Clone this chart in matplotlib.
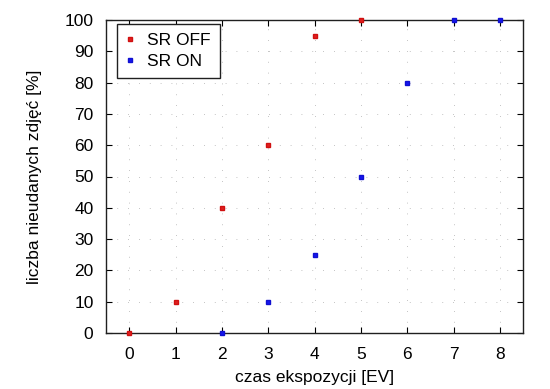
import matplotlib
matplotlib.use("Agg")
import matplotlib.pyplot as plt

plt.rcParams['font.family'] = ['Liberation Sans', 'DejaVu Sans']

off_x = [0, 1, 2, 3, 4, 5]
off_y = [0, 10, 40, 60, 95, 100]
on_x = [2, 3, 4, 5, 6, 7, 8]
on_y = [0, 10, 25, 50, 80, 100, 100]
xticks = list(range(0, 9))
yticks = list(range(0, 101, 10))

fig = plt.figure(figsize=(5.5, 3.89), dpi=100)
ax = fig.add_axes([106/550, 1-333/389, (523-106)/550, (333-20)/389])

ax.plot(off_x, off_y, 's', ms=3.5, mec='#d01010', mfc='#e02020', clip_on=False, zorder=3, label='SR OFF')
ax.plot(on_x, on_y, 's', ms=3.5, mec='#1010d0', mfc='#1515f0', clip_on=False, zorder=4, label='SR ON')

ax.set_xlim(-0.5, 8.5)
ax.set_ylim(0, 100)
ax.set_xticks(xticks)
ax.set_yticks(yticks)
ax.tick_params(direction='in', top=True, right=True, length=4, width=0.8, labelsize=12.5)
ax.tick_params(axis='y', pad=9)
ax.tick_params(axis='x', pad=10)
ax.grid(True, color='#b0b0b0', linestyle=(0, (1, 12)), linewidth=0.6)
for s in ax.spines.values():
    s.set_linewidth(1.0)
    s.set_color('#202020')

ax.set_xlabel('czas ekspozycji [EV]', fontsize=12.5, labelpad=6)
ax.set_ylabel('liczba nieudanych zdjęć [%]', fontsize=12.5, labelpad=16)

leg = ax.legend(loc='upper left', fontsize=12.5, frameon=True, fancybox=False,
                borderpad=0.5, handlelength=0.5, handletextpad=0.75, labelspacing=0.35,
                bbox_to_anchor=(11/417, 1-4/313), borderaxespad=0.0)
leg.get_frame().set_edgecolor('#202020')
leg.get_frame().set_linewidth(1.0)
leg.get_frame().set_alpha(1)

fig.savefig('out.png', dpi=100)
